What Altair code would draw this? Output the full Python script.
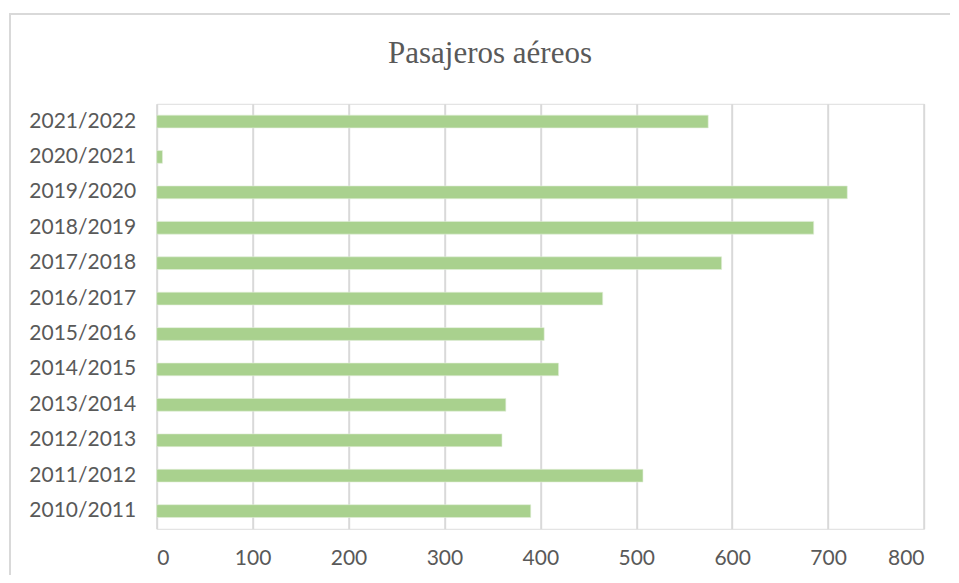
import altair as alt
import pandas as pd

periods = ["2010/2011", "2011/2012", "2012/2013", "2013/2014", "2014/2015", "2015/2016",
           "2016/2017", "2017/2018", "2018/2019", "2019/2020", "2020/2021", "2021/2022"]
values = [390, 507, 360, 364, 419, 404, 465, 589, 685, 720, 6, 575]
x_ticks = [0, 100, 200, 300, 400, 500, 600, 700, 800]
title_text = "Pasajeros aéreos"

df = pd.DataFrame({"periodo": periods, "valor": values})

GRAY_TXT = "#595959"
GRID = "#d9d9d9"
LABEL_FONT = "Lato"

bars = alt.Chart(df).mark_bar(color="#a9d18e", stroke="#e2efda", strokeWidth=0.6).encode(
    x=alt.X("valor:Q",
            scale=alt.Scale(domain=[0, 800], nice=False, zero=True),
            axis=alt.Axis(values=x_ticks, title=None, domain=False, ticks=False,
                          grid=True, gridColor=GRID, gridWidth=2,
                          labelFont=LABEL_FONT, labelFontSize=21, labelColor=GRAY_TXT,
                          labelPadding=19)),
    y=alt.Y("periodo:N",
            sort=periods[::-1],
            scale=alt.Scale(paddingInner=0.64, paddingOuter=0.32),
            axis=alt.Axis(title=None, domain=False, ticks=False, grid=False,
                          labelFont=LABEL_FONT, labelFontSize=21, labelColor=GRAY_TXT,
                          labelPadding=21)),
)

frame = alt.Chart(pd.DataFrame({"f": [0]})).mark_rect(
    fill=None, stroke=GRID, strokeWidth=2
).encode(
    x=alt.value(-146.7), x2=alt.value(900),
    y=alt.value(-89.8), y2=alt.value(520),
)

title = alt.Chart(pd.DataFrame({"t": [title_text]})).mark_text(
    font="Liberation Serif", fontSize=31, color=GRAY_TXT,
    align="center", baseline="alphabetic"
).encode(
    text="t:N",
    x=alt.value(333.3), y=alt.value(-40.8),
)

chart = alt.layer(frame, bars, title).properties(
    width=767.3,
    height=425,
    autosize=alt.AutoSizeParams(type="none"),
    padding={"left": 148.7, "top": 95.8, "right": 26, "bottom": 46},
).configure_view(stroke=None).configure(background="white")

chart.save("out.html", embed_options={"renderer": "svg", "actions": False})
